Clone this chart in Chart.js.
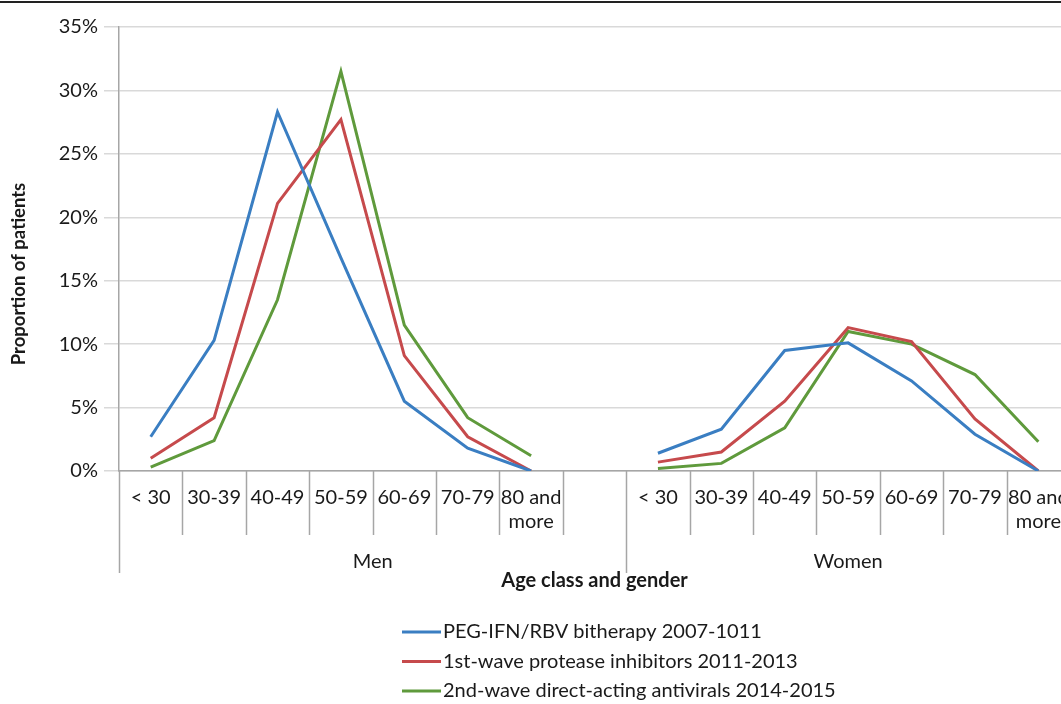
<!DOCTYPE html>
<html>
<head>
<meta charset="utf-8">
<script src="https://cdn.jsdelivr.net/npm/chart.js@4"></script>
<style>
  html, body { margin: 0; padding: 0; background: #fff; overflow: hidden; }
  #wrap { width: 1084px; height: 704px; }
</style>
</head>
<body>
<div id="wrap"><canvas id="ageChart" width="1084" height="704"></canvas></div>
<script>
// age classes, repeated for each gender, with an empty slot between the groups
const ageClasses = ['< 30', '30-39', '40-49', '50-59', '60-69', '70-79', ['80 and', 'more']];
const genders = ['Men', 'Women'];

const pegIfn = [2.7, 10.3, 28.3, 16.8, 5.5, 1.8, 0, null, 1.4, 3.3, 9.5, 10.1, 7.1, 2.9, 0];
const firstWave = [1.0, 4.2, 21.1, 27.7, 9.1, 2.7, 0, null, 0.7, 1.5, 5.5, 11.3, 10.2, 4.1, 0];
const secondWave = [0.3, 2.4, 13.5, 31.5, 11.5, 4.2, 1.2, null, 0.2, 0.6, 3.4, 11.0, 10.0, 7.6, 2.3];

const seriesNames = [
  'PEG-IFN/RBV bitherapy 2007-1011',
  '1st-wave protease inhibitors 2011-2013',
  '2nd-wave direct-acting antivirals 2014-2015'
];
const seriesColors = ['#3a7ec2', '#c64a4c', '#5f9a3c'];

const categories = [...ageClasses, '', ...ageClasses];
const groupSize = ageClasses.length + 1;   // Men group holds the blank slot too

const FONT = 'Lato, "Liberation Sans", sans-serif';
const TEXT = '#1a1a1a';

const extras = {
  id: 'extras',
  afterDraw(chart) {
    const c = chart.ctx;
    const x = chart.scales.x;
    const area = chart.chartArea;
    const half = (x.getPixelForValue(1) - x.getPixelForValue(0)) / 2;
    c.save();

    // rule across the top of the figure
    c.strokeStyle = '#222';
    c.lineWidth = 2;
    c.beginPath(); c.moveTo(0, 2); c.lineTo(chart.width, 2); c.stroke();

    // category separators below the axis, taller at group edges
    c.strokeStyle = '#a6a6a6';
    c.lineWidth = 1.5;
    for (let i = 0; i <= categories.length; i++) {
      const px = Math.round(x.getPixelForValue(0) - half + i * 2 * half) + 0.5;
      const tall = i % groupSize === 0 || i === categories.length;
      c.beginPath();
      c.moveTo(px, area.bottom);
      c.lineTo(px, area.bottom + (tall ? 102 : 64));
      c.stroke();
    }

    // gender group labels
    c.fillStyle = TEXT;
    c.font = '20px ' + FONT;
    c.textAlign = 'center';
    c.textBaseline = 'middle';
    genders.forEach((g, k) => {
      const first = k * groupSize;
      const last = k === 0 ? groupSize - 1 : categories.length - 1;
      const cx = (x.getPixelForValue(first) + x.getPixelForValue(last)) / 2;
      c.fillText(g, cx, area.bottom + 91);
    });

    // axis titles
    c.font = 'bold 20px ' + FONT;
    c.fillText('Age class and gender', (area.left + x.getPixelForValue(categories.length - 1) + half) / 2, area.bottom + 110);
    c.save();
    c.translate(19, 274);
    c.rotate(-Math.PI / 2);
    c.font = 'bold 18.5px ' + FONT;
    c.fillText('Proportion of patients', 0, 0);
    c.restore();

    // legend, one entry per row
    c.textAlign = 'left';
    c.font = '20px ' + FONT;
    chart.data.datasets.forEach((ds, i) => {
      const y = 632 + i * 29.5;
      c.strokeStyle = ds.borderColor;
      c.lineWidth = 3;
      c.beginPath(); c.moveTo(402, y); c.lineTo(441, y); c.stroke();
      c.fillStyle = TEXT;
      c.fillText(ds.label, 443, y);
    });
    c.restore();
  }
};

const datasets = [pegIfn, firstWave, secondWave].map((values, i) => ({
  label: seriesNames[i],
  data: values,
  borderColor: seriesColors[i],
  backgroundColor: seriesColors[i],
  borderWidth: 3,
  pointRadius: 0,
  tension: 0,
  spanGaps: false
}));

new Chart(document.getElementById('ageChart'), {
  type: 'line',
  data: { labels: categories, datasets: datasets },
  options: {
    responsive: false,
    animation: false,
    layout: { padding: { top: 27, right: 10, left: 0, bottom: 0 } },
    plugins: { legend: { display: false }, tooltip: { enabled: false } },
    scales: {
      x: {
        type: 'category',
        offset: true,
        grid: { drawOnChartArea: false, drawTicks: false, offset: true },
        border: { color: '#a6a6a6', width: 1.5 },
        ticks: {
          autoSkip: false, maxRotation: 0, padding: 15,
          color: TEXT, font: { family: FONT, size: 20, lineHeight: 1.2 }
        },
        afterFit(scale) { scale.height = 233; }
      },
      y: {
        min: 0, max: 35,
        ticks: {
          stepSize: 5, padding: 6, color: TEXT,
          font: { family: FONT, size: 20 },
          callback: v => v + '%'
        },
        grid: { color: '#d9d9d9', lineWidth: 1.5, tickLength: 15 },
        border: { color: '#a6a6a6', width: 1.5 },
        afterFit(scale) { scale.width = 119; }
      }
    }
  },
  plugins: [extras]
});
</script>
</body>
</html>
